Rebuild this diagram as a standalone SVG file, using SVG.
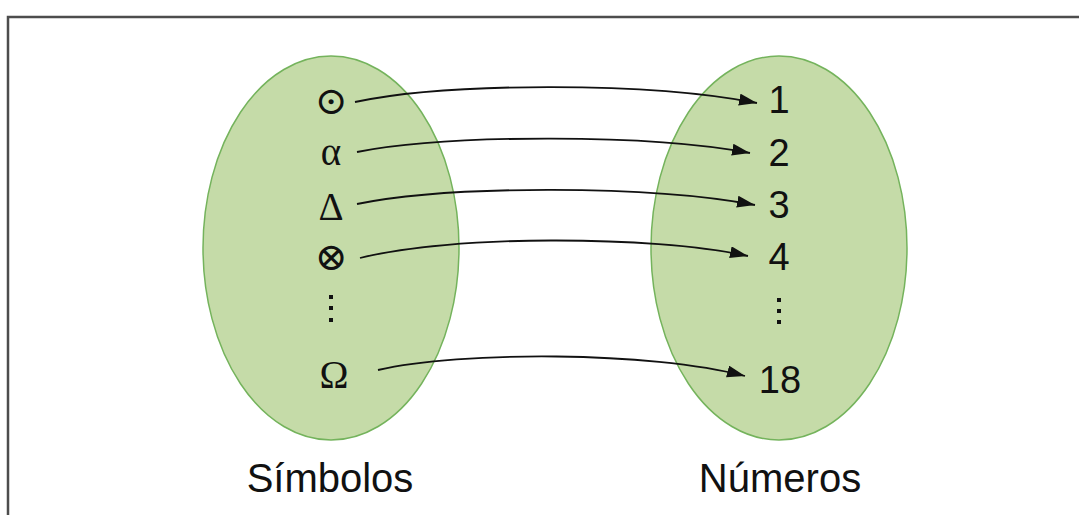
<svg xmlns="http://www.w3.org/2000/svg" width="1079" height="515" viewBox="0 0 1079 515">
<style>
.set{fill:#c5dba8;stroke:#74b35c;stroke-width:1.5}
.sym{font-family:"Liberation Serif","DejaVu Serif",serif;font-size:39px;fill:#111;text-anchor:middle}
.num{font-family:"Liberation Sans",Arial,sans-serif;font-size:38px;fill:#111;text-anchor:middle}
.lbl{font-family:"Liberation Sans",Arial,sans-serif;font-size:40px;fill:#111;text-anchor:middle}
.arr{fill:none;stroke:#111;stroke-width:1.8;marker-end:url(#ah)}
.dot{fill:#111}
</style>
<defs>
<marker id="ah" markerUnits="userSpaceOnUse" markerWidth="20" markerHeight="14" refX="18" refY="6" orient="auto">
<path d="M0,0 L18,6 L0,12 Z" fill="#111"/>
</marker>
</defs>
<rect x="8" y="17" width="1100" height="600" fill="#fff" stroke="#4d4d4d" stroke-width="2.5"/>
<g id="simbolos">
<ellipse class="set" cx="331" cy="248" rx="128" ry="192"/>
<text class="sym" x="331" y="114">⊙</text>
<text class="sym" x="331" y="165">α</text>
<text class="sym" x="331" y="220">Δ</text>
<text class="sym" x="331" y="270">⊗</text>
<rect class="dot" x="329" y="295" width="4" height="4"/>
<rect class="dot" x="329" y="306" width="4" height="4"/>
<rect class="dot" x="329" y="318" width="4" height="4"/>
<text class="sym" x="334" y="388">Ω</text>
<text class="lbl" x="330" y="492">Símbolos</text>
</g>
<g id="numeros">
<ellipse class="set" cx="779" cy="248" rx="128" ry="192"/>
<text class="num" x="779" y="113">1</text>
<text class="num" x="779" y="166">2</text>
<text class="num" x="779" y="218">3</text>
<text class="num" x="779" y="270">4</text>
<rect class="dot" x="777" y="298" width="4" height="4"/>
<rect class="dot" x="777" y="309" width="4" height="4"/>
<rect class="dot" x="777" y="320" width="4" height="4"/>
<text class="num" x="780" y="393">18</text>
<text class="lbl" x="780" y="492">Números</text>
</g>
<g id="connectors">
<path class="arr" d="M355,102 C450,82 650,82 757,103"/>
<path class="arr" d="M357,152 C450,134 650,134 750,153"/>
<path class="arr" d="M357,204 C450,185 650,185 755,205"/>
<path class="arr" d="M360,258 C450,235 650,235 748,256"/>
<path class="arr" d="M378,370 C460,351 650,351 745,376"/>
</g>
</svg>
